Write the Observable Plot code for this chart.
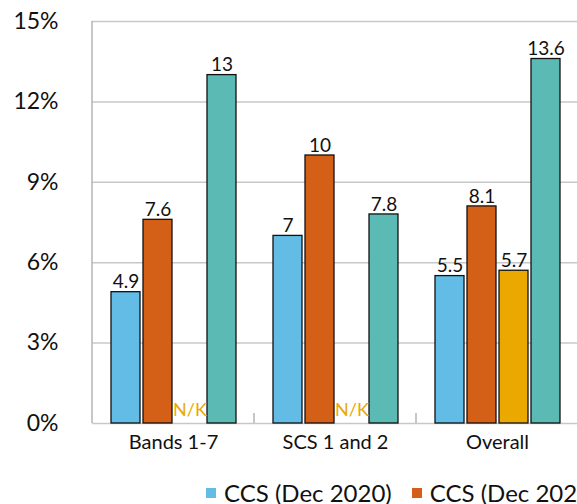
<!DOCTYPE html>
<html>
<head>
<meta charset="utf-8">
<script src="https://cdn.jsdelivr.net/npm/d3@7"></script>
<script src="https://cdn.jsdelivr.net/npm/@observablehq/plot@0.6"></script>
<style>
  body { margin: 0; background: #fff; overflow: hidden; font-family: Lato, "Noto Sans", sans-serif; }
  #chart { width: 600px; }
  .legend { display: flex; white-space: nowrap; padding-left: 206px; margin-top: 16px; font-size: 24px; line-height: 30px; color: #111; }
  .legend .item { display: flex; align-items: center; margin-right: 20px; }
  .legend .sw { width: 10px; height: 10px; margin-right: 8px; flex: none; }
</style>
</head>
<body>
<div id="chart"></div>
<script>
// Staff groups along the x axis
const groups = ["Bands 1-7", "SCS 1 and 2", "Overall"];
// Series shown within each group
const series = ["CCS (Dec 2020)", "CCS (Dec 2021)", "Civil Service (2021)", "UK (2021)"];
const colors = ["#63bce6", "#d45f16", "#eba800", "#5bbab3"];
// Values per group, in series order (null = not known)
const bands = [4.9, 7.6, null, 13];
const scs = [7, 10, null, 7.8];
const overall = [5.5, 8.1, 5.7, 13.6];
const yTicks = [0, 3, 6, 9, 12, 15];

const valuesByGroup = [bands, scs, overall];
const rows = groups.flatMap((g, i) =>
  series.map((s, j) => ({group: g, series: s, value: valuesByGroup[i][j]}))
);

const plot = Plot.plot({
  width: 600,
  height: 462,
  marginLeft: 92,
  marginRight: 22,
  marginTop: 21,
  marginBottom: 39,
  style: {fontFamily: "Lato, 'Noto Sans', sans-serif", background: "#fff", color: "#111"},
  fx: {domain: groups, padding: 0, label: null, axis: null},
  x: {domain: series, paddingInner: 0.1, paddingOuter: 0.56, axis: null},
  y: {domain: [0, 15], label: null},
  color: {domain: series, range: colors},
  marks: [
    Plot.gridY(yTicks, {stroke: "#c8c8c8", strokeOpacity: 1, strokeWidth: 1.5}),
    Plot.axisY(yTicks, {tickSize: 0, tickPadding: 34, tickFormat: d => d + "%", fontSize: 23, label: null}),
    Plot.axisFx({anchor: "bottom", tickSize: 0, tickPadding: 11, fontSize: 20, label: null}),
    Plot.barY(rows, {
      fx: "group", x: "series", y: d => d.value ?? 0,
      fill: "series", stroke: "#111", strokeWidth: 1.3
    }),
    Plot.text(rows.filter(d => d.value != null), {
      fx: "group", x: "series", y: "value", text: d => String(d.value),
      dy: -10, fontSize: 19, fill: "#111"
    }),
    Plot.text(rows.filter(d => d.value == null), {
      fx: "group", x: "series", y: 0, text: () => "N/K",
      dy: -13, fontSize: 18, fill: "#eba800"
    })
  ]
});

// Left axis line and small separators between groups, placed through the scales
const fx = plot.scale("fx");
const y = plot.scale("y");
const svg = d3.select(plot.tagName === "svg" ? plot : plot.querySelector("svg"));
const y0 = y.apply(0), y15 = y.apply(15);
const axisG = svg.append("g").attr("stroke", "#b4b4b4").attr("stroke-width", 1.5);
axisG.append("line").attr("x1", fx.apply(groups[0])).attr("x2", fx.apply(groups[0]))
  .attr("y1", y15).attr("y2", y0);
groups.slice(1).forEach(g => {
  const gx = fx.apply(g);
  axisG.append("line").attr("x1", gx).attr("x2", gx).attr("y1", y0 - 10).attr("y2", y0);
});

document.getElementById("chart").appendChild(plot);

// Legend below the chart
const legend = d3.select("body").append("div").attr("class", "legend");
series.forEach((s, i) => {
  const item = legend.append("div").attr("class", "item");
  item.append("span").attr("class", "sw").style("background", colors[i]);
  item.append("span").text(s);
});
</script>
</body>
</html>
